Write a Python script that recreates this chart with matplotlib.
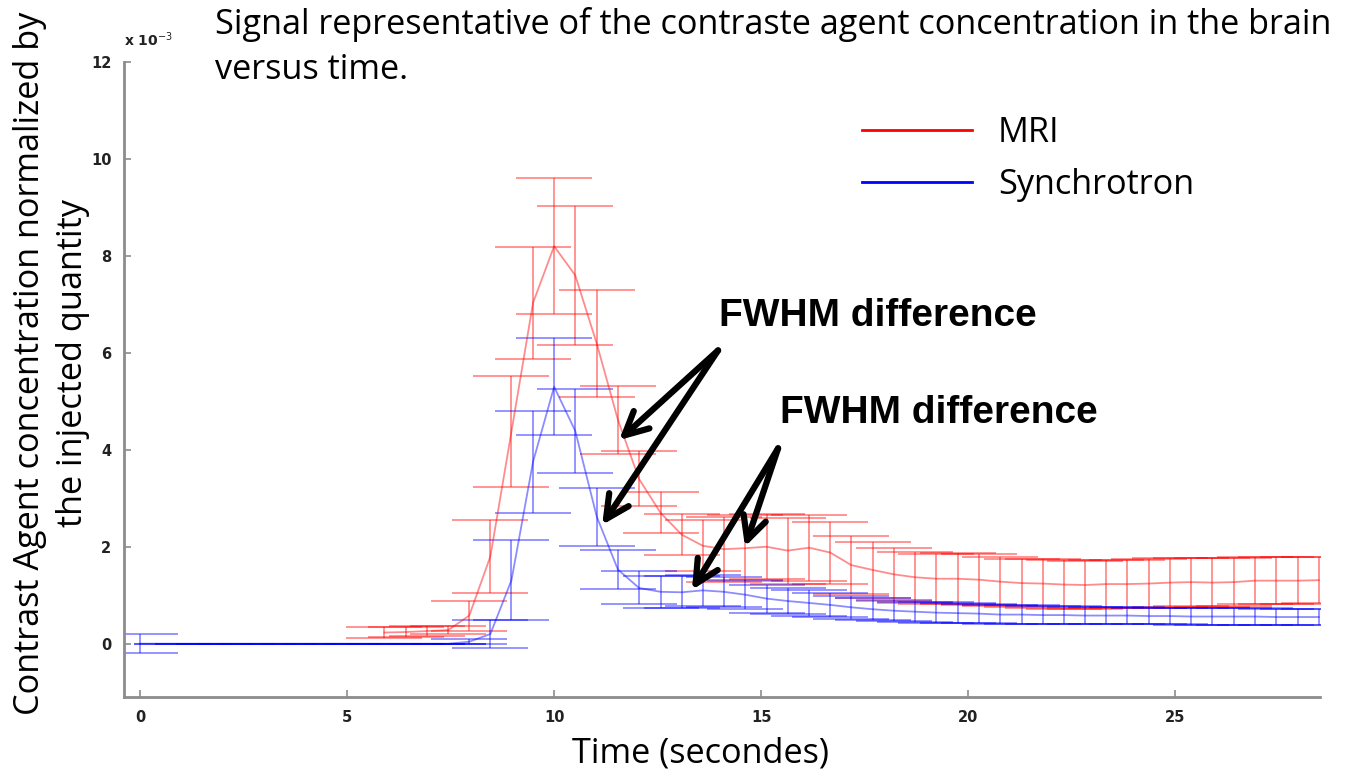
import matplotlib
matplotlib.use("Agg")
import matplotlib.pyplot as plt
from matplotlib.lines import Line2D

# time axis (s), shared sampling of both acquisitions
t_sync = [0.0, 0.77, 1.28, 1.79, 2.31, 2.82, 3.33, 3.84, 4.36, 4.87, 5.38,
          5.90, 6.41, 6.92, 7.44, 7.95, 8.46, 8.97, 9.49, 10.00, 10.51,
          11.03, 11.54, 12.05, 12.57, 13.08, 13.59, 14.10, 14.62, 15.13,
          15.64, 16.16, 16.67, 17.18, 17.70, 18.21, 18.72, 19.23, 19.75,
          20.26, 20.77, 21.29, 21.80, 22.31, 22.83, 23.34, 23.85, 24.36,
          24.88, 25.39, 25.90, 26.42, 26.93, 27.44, 27.96, 28.47]
t_mri = t_sync[11:]

# synchrotron signal (x 1e-3) and its error
sync_mean = [0.0] * 15 + [0.04, 0.20, 1.31, 3.75, 5.30, 4.39, 2.62, 1.53, 1.15,
             1.07, 1.06, 1.10, 1.07, 1.01, 0.93, 0.88, 0.84, 0.80, 0.75, 0.71,
             0.68, 0.66, 0.64, 0.63, 0.62, 0.60, 0.60, 0.59, 0.59, 0.58, 0.58,
             0.58, 0.57, 0.57, 0.56, 0.56, 0.56, 0.56, 0.55, 0.55, 0.55]
sync_err = [0.2] + [0.0] * 14 + [0.05, 0.28, 0.82, 1.05, 1.00, 0.87, 0.60, 0.40,
            0.34, 0.33, 0.33, 0.32, 0.31, 0.30, 0.29, 0.27, 0.26, 0.25, 0.24,
            0.23, 0.22, 0.21, 0.21, 0.20, 0.20, 0.19, 0.19, 0.18, 0.18, 0.18,
            0.18] + [0.17] * 10

# MRI signal (x 1e-3) and its error
mri_mean = [0.23, 0.24, 0.26, 0.28, 0.58, 1.80, 4.38, 7.03, 8.20, 7.60, 6.19,
            4.62, 3.40, 2.70, 2.25, 2.02, 1.95, 1.97, 2.00, 1.92, 1.98, 1.88,
            1.62, 1.52, 1.43, 1.37, 1.34, 1.34, 1.32, 1.28, 1.25, 1.24, 1.22,
            1.21, 1.23, 1.23, 1.24, 1.26, 1.27, 1.26, 1.27, 1.30, 1.30, 1.30,
            1.31]
mri_err = [0.11, 0.10, 0.10, 0.08, 0.31, 0.76, 1.14, 1.16, 1.40, 1.43, 1.11,
           0.70, 0.57, 0.42, 0.43, 0.53, 0.67, 0.68, 0.67, 0.68, 0.68, 0.64,
           0.60, 0.57, 0.54, 0.53, 0.52, 0.53, 0.52] + [0.50] * 12 + [0.48] * 4

xticks = [0, 5, 10, 15, 20, 25]
yticks = [0, 2, 4, 6, 8, 10, 12]

W, H = 1348, 778
fig = plt.figure(figsize=(W / 100, H / 100), dpi=100)
ax = fig.add_axes([124 / W, 81 / H, (1320 - 124) / W, (697 - 62) / H])

ax.errorbar(t_mri, mri_mean, yerr=mri_err, color='red', alpha=0.45, lw=1.3,
            elinewidth=1.3, capsize=27.7, capthick=1.3)
ax.errorbar(t_sync, sync_mean, yerr=sync_err, color='blue', alpha=0.45, lw=1.3,
            elinewidth=1.3, capsize=27.7, capthick=1.3)

ax.set_xlim(-0.39, 28.5)
ax.set_ylim(-1.1, 12)
ax.set_xticks(xticks)
ax.set_yticks(yticks)
for s in ['top', 'right']:
    ax.spines[s].set_visible(False)
for s in ['left', 'bottom']:
    ax.spines[s].set_color('#8c8c8c')
    ax.spines[s].set_linewidth(2)
ax.tick_params(direction='in', length=5, width=1.2, color='#8c8c8c',
               labelsize=10.5, labelcolor='#222222', pad=9)
for lab in ax.get_xticklabels() + ax.get_yticklabels():
    lab.set_fontweight('bold')

fig.text(124 / W, 1 - 40 / H, r'x 10$^{-3}$', fontsize=10, fontweight='bold',
         color='#222222', ha='left', va='center')

# title and axis labels
tfont = dict(family='Open Sans', fontsize=24.7, color='black')
fig.text(215 / W, 1 - 25 / H, 'Signal representative of the contraste agent concentration in the brain',
         ha='left', va='center', **tfont)
fig.text(215 / W, 1 - 70 / H, 'versus time.', ha='left', va='center', **tfont)
fig.text(700 / W, 1 - 753 / H, 'Time (secondes)', ha='center', va='center', **tfont)
fig.text(30 / W, 1 - 363 / H, 'Contrast Agent concentration normalized by',
         rotation=90, ha='center', va='center', **tfont)
fig.text(73 / W, 1 - 363 / H, 'the injected quantity',
         rotation=90, ha='center', va='center', **tfont)

# legend
handles = [Line2D([], [], color='red', lw=2), Line2D([], [], color='blue', lw=2)]
fig.legend(handles, ['MRI', 'Synchrotron'], loc='upper left',
           bbox_to_anchor=(862 / W, 1 - 116 / H), frameon=False,
           prop={'family': 'Open Sans', 'size': 24.7}, handlelength=3.2,
           handletextpad=0.76, labelspacing=0.53, borderpad=0, borderaxespad=0)

# FWHM arrows
arrow = dict(arrowstyle='->', lw=4.5, color='black', mutation_scale=42,
             shrinkA=0, shrinkB=0)
ax.annotate('', xy=(11.57, 4.20), xytext=(13.96, 6.05), arrowprops=arrow)
ax.annotate('', xy=(11.16, 2.45), xytext=(13.96, 6.05), arrowprops=arrow)
ax.annotate('', xy=(14.61, 2.00), xytext=(15.41, 4.03), arrowprops=arrow)
ax.annotate('', xy=(13.33, 1.11), xytext=(15.41, 4.03), arrowprops=arrow)
ax.text(13.99, 6.77, 'FWHM difference', family='Liberation Sans', fontsize=28,
        fontweight='bold', ha='left', va='center')
ax.text(15.46, 4.75, 'FWHM difference', family='Liberation Sans', fontsize=28,
        fontweight='bold', ha='left', va='center')

fig.savefig('out.png', dpi=100)
